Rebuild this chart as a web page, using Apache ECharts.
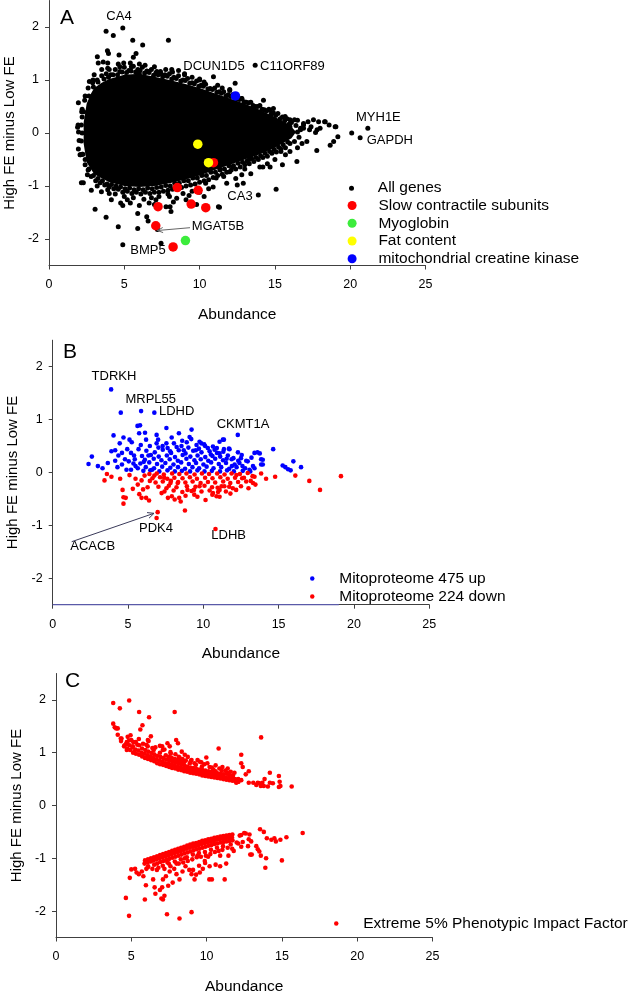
<!DOCTYPE html>
<html>
<head>
<meta charset="utf-8">
<script src="https://cdn.jsdelivr.net/npm/echarts@6/dist/echarts.min.js"></script>
<style>html,body{margin:0;padding:0;background:#fff}#c{width:633px;height:992px}</style>
</head>
<body>
<div id="c"></div>
<script>
// ---------- Tick labels ----------
const xTicks = [0, 5, 10, 15, 20, 25];
const yTicks = [-2, -1, 0, 1, 2];

// ---------- Panel A ----------
// dense core of "All genes" (outline of the solid region)
const aBlobOutline = [[2.3,0.2],[2.5,0.55],[2.8,0.75],[3.0,0.85],[3.5,0.95],[4.0,1.02],[5.0,1.1],[6.0,1.12],[7.0,1.06],[8.0,1.0],[9.0,0.93],[10.0,0.85],[11.0,0.75],[12.0,0.65],[13.0,0.55],[14.0,0.44],[15.0,0.3],[16.0,0.15],[16.4,0.02],[16.1,-0.1],[15.0,-0.28],[14.0,-0.4],[13.0,-0.5],[12.0,-0.6],[11.0,-0.7],[10.0,-0.8],[9.0,-0.88],[8.0,-0.95],[7.0,-1.0],[6.0,-1.02],[5.0,-1.0],[4.0,-0.93],[3.0,-0.78],[2.5,-0.55],[2.3,-0.2]];
const aAllGenes = [
[2.65,0.7],[2.95,0.87],[3.25,0.96],[3.65,1.02],[3.95,1.05],[4.25,1.1],[4.55,1.1],[4.85,1.15],[5.15,1.14],[5.45,1.17],[5.75,1.15],[6.05,1.18],[6.35,1.13],[6.65,1.14],[6.95,1.09],[7.25,1.1],[7.55,1.06],[7.85,1.07],[8.15,1.02],[8.45,1.03],[8.75,0.98],[9.05,0.99],[9.35,0.94],[9.65,0.93],[9.95,0.88],[10.25,0.88],[10.55,0.83],[10.85,0.82],[11.15,0.77],[11.45,0.75],[11.75,0.7],[12.05,0.69],[12.35,0.65],[12.65,0.63],[12.95,0.59],[13.25,0.57],[13.55,0.52],[13.85,0.5],[14.15,0.45],[14.45,0.42],[14.75,0.36],[15.05,0.33],[15.35,0.27],[15.65,0.23],[15.95,0.17],
[2.65,-0.68],[2.95,-0.8],[3.25,-0.86],[3.55,-0.9],[3.85,-0.96],[4.15,-0.97],[4.45,-1.0],[4.75,-1.02],[5.05,-1.05],[5.35,-1.04],[5.65,-1.07],[5.95,-1.05],[6.25,-1.07],[6.55,-1.04],[6.85,-1.05],[7.15,-1.03],[7.45,-1.02],[7.75,-0.99],[8.05,-1.0],[8.35,-0.95],[8.65,-0.95],[8.95,-0.9],[9.25,-0.9],[9.55,-0.85],[9.85,-0.85],[10.15,-0.8],[10.45,-0.8],[10.75,-0.74],[11.05,-0.74],[11.35,-0.68],[11.65,-0.68],[11.95,-0.62],[12.25,-0.62],[12.55,-0.57],[12.85,-0.55],[13.15,-0.53],[13.45,-0.48],[13.75,-0.46],[14.05,-0.43],[14.35,-0.38],[14.65,-0.35],[14.95,-0.31],[15.25,-0.27],[15.55,-0.22],[15.85,-0.17],[2.25,-0.4],[2.2,0.0],[2.3,0.4],[2.4,-0.5],
[2.2,0.45],[2.4,0.7],[2.6,0.85],[2.9,0.95],[3.2,1.0],[3.5,1.08],[3.8,1.12],[4.1,1.1],[4.4,1.2],[4.7,1.16],[5.0,1.24],[5.3,1.18],[5.6,1.26],[5.9,1.2],[6.2,1.24],[6.5,1.17],[6.8,1.2],[7.1,1.13],[7.4,1.16],[7.7,1.1],[8.0,1.12],[8.3,1.05],[8.6,1.08],[8.9,1.0],[9.2,1.03],[9.5,0.95],[9.8,0.98],[10.1,0.9],[10.4,0.92],[10.7,0.84],[11.0,0.85],[11.3,0.78],[11.6,0.78],[11.9,0.72],[12.2,0.72],[12.5,0.64],[12.8,0.65],[13.1,0.58],[13.4,0.58],[13.7,0.5],[14.0,0.52],[14.3,0.44],[14.6,0.45],[14.9,0.38],[15.2,0.37],[15.5,0.3],[15.8,0.27],[16.1,0.2],[16.4,0.14],[16.7,0.06],
[3.0,1.1],[4.0,1.2],[4.6,1.3],[5.4,1.32],[6.0,1.3],[7.0,1.25],[8.2,1.15],[9.0,1.12],[10.0,1.02],[11.2,0.9],[12.0,0.82],
[16.6,-0.08],[16.3,-0.16],[16.0,-0.2],[15.7,-0.28],[15.4,-0.3],[15.1,-0.36],[14.8,-0.38],[14.5,-0.44],[14.2,-0.46],[13.9,-0.5],[13.6,-0.54],[13.3,-0.58],[13.0,-0.6],[12.7,-0.64],[12.4,-0.68],[12.1,-0.7],[11.8,-0.74],[11.5,-0.78],[11.2,-0.8],[10.9,-0.84],[10.6,-0.88],[10.3,-0.9],[10.0,-0.93],[9.7,-0.96],[9.4,-0.98],[9.1,-1.0],[8.8,-1.03],[8.5,-1.05],[8.2,-1.06],[7.9,-1.08],[7.6,-1.1],[7.3,-1.12],[7.0,-1.12],[6.7,-1.14],[6.4,-1.12],[6.1,-1.15],[5.8,-1.12],[5.5,-1.14],[5.2,-1.1],[4.9,-1.12],[4.6,-1.06],[4.3,-1.05],[4.0,-1.02],[3.7,-0.98],[3.4,-0.94],[3.1,-0.9],[2.8,-0.82],[2.6,-0.7],[2.4,-0.6],[2.2,-0.4],[2.15,-0.15],[2.15,0.15],[2.2,0.3],
[3.79,1.92],[4.27,1.84],[4.9,1.98],[5.56,1.75],[6.22,1.66],[7.93,1.75],[3.88,1.55],[3.95,1.5],[5.78,1.5],[5.6,1.43],[3.21,1.44],[3.27,1.32],[3.9,1.32],[4.96,1.32],[6.38,1.28],[7.16,1.16],[8.15,1.2],[10.92,1.06],[12.36,0.94],[13.69,1.28],[2.68,0.97],[4.65,1.47],
[3.5,1.2],[3.9,1.22],[4.7,1.25],[5.47,1.25],[6.0,1.12],[6.58,1.16],[6.8,1.03],[7.43,1.12],[7.75,1.2],[5.1,1.06],[2.92,1.0],[3.6,1.34],[2.37,0.62],[1.93,0.15],[1.96,0.02],[1.95,-0.3],[2.1,-0.41],[1.95,0.57],[2.17,0.4],[1.9,0.11],[2.0,-0.14],[2.06,-0.41],[2.28,-0.94],[2.55,-0.79],
[8.6,1.18],[9.0,1.1],[9.5,1.05],[10.0,1.0],[10.3,0.96],[11.5,0.85],[12.0,0.8],[12.8,0.65],[14.24,0.62],[14.68,0.43],[14.9,0.46],[15.68,0.31],[16.0,0.25],[16.3,0.25],[16.5,0.24],[16.9,0.18],[17.2,0.21],[17.56,0.25],[17.9,0.21],[18.34,0.21],[18.6,0.15],[19.05,0.12],[17.8,0.06],[17.3,0.06],[16.9,0.09],[16.5,0.02],[16.0,0.12],[20.1,0.0],[21.17,0.09],[20.66,-0.09],[16.7,0.09],[17.12,-0.16],[17.78,-0.33],[18.67,-0.23],[18.9,-0.16],[19.18,-0.07],[19.0,0.12],[18.3,0.21],[17.7,0.01],[18.0,0.09],[17.4,0.12],[16.9,0.15],
[16.5,-0.28],[16.46,-0.54],[15.7,-0.41],[15.4,-0.35],[14.68,-0.64],[14.5,-0.58],[14.2,-0.64],[14.0,-0.64],[13.4,-0.77],[13.3,-0.5],[12.9,-0.95],[12.5,-0.98],[12.4,-0.86],[12.8,-0.79],[13.9,-1.17],[15.08,-1.06],[11.32,-1.4],[12.0,-0.73],[12.2,-0.64],[13.4,-0.45],[13.7,-0.35],[14.0,-0.28],[11.36,-0.7],[11.6,-0.82],[11.1,-0.85],[13.0,-0.68],[15.0,-0.5],[16.0,-0.35],[16.8,-0.2],[15.5,-0.6],
[8.48,-1.23],[9.1,-1.26],[9.8,-1.35],[10.3,-1.2],[10.9,-1.02],[11.25,-1.39],[10.0,-1.12],[9.5,-1.1],[8.0,-1.2],[8.26,-1.3],[8.9,-1.14],[8.04,-1.39],[7.77,-1.39],[8.1,-1.48],[7.44,-2.08],[6.49,-1.58],[5.89,-1.52],[5.89,-1.8],[4.9,-1.37],[4.9,-2.11],[4.6,-1.77],[3.79,-1.59],[3.06,-1.44],[3.9,-1.07],[2.81,-1.08],[2.15,-0.94],[6.58,-1.66],[5.2,-1.26],[4.14,-1.26],[4.0,-1.14],[3.48,-1.11],[4.76,-1.32],[5.4,-1.32],[6.0,-1.37],[5.6,-1.22],[6.65,-1.32],[7.1,-1.26],[7.3,-1.2],[6.8,-1.22],[6.3,-1.25],[5.0,-1.2],[4.4,-1.15],[3.2,-1.0],[7.9,-1.15],[7.0,-1.35],[9.3,-1.18],[10.6,-1.05],[11.8,-0.95],[10.4,-0.95],[7.2,-1.82]
];
const aSlow = [[10.92,-0.56],[8.52,-1.03],[9.9,-1.08],[9.44,-1.34],[10.41,-1.41],[7.24,-1.39],[7.09,-1.75],[8.24,-2.15]];
const aMyoglobin = [[9.06,-2.03]];
const aFat = [[9.88,-0.21],[10.59,-0.56]];
const aMitoCK = [[12.38,0.70]];

// ---------- Panel B ----------
const bUp = [
[3.88,1.57],[4.52,1.13],[5.87,1.16],[6.75,1.13],[5.63,0.88],[5.8,0.89],[7.55,0.84],[5.74,0.74],[6.13,0.75],[6.9,0.71],[8.38,0.74],[9.22,0.81],[4.04,0.7],[4.7,0.66],[5.25,0.57],[2.6,0.3],[2.38,0.16],[3.31,0.08],[3.66,0.18],[4.15,0.22],[4.15,0.42],[4.36,0.32],[4.6,0.37],[4.95,0.44],[5.2,0.37],[4.8,0.25],[5.05,0.21],[5.4,0.32],[5.7,0.44],[5.85,0.52],[5.36,0.17],[5.65,0.08],[6.05,0.2],[6.36,0.32],[6.45,0.5],[6.9,0.55],[7.3,0.5],[7.55,0.55],[7.8,0.4],[8.05,0.55],[8.55,0.5],[8.9,0.57],[9.2,0.63],[9.55,0.52],
[9.09,0.67],[9.75,0.58],[10.06,0.53],[10.64,0.49],[11.3,0.62],[11.08,0.36],[11.7,0.45],[12.3,0.38],[12.0,0.27],[12.85,0.22],[13.4,0.37],[13.6,0.38],[13.75,0.36],[13.84,0.25],[13.84,0.15],[14.64,0.44],[15.27,0.13],[15.45,0.1],[15.63,0.06],[15.8,0.04],[15.98,0.21],[16.49,0.1],[13.3,0.12],[13.07,0.05],[12.6,0.12],[12.4,0.18],[12.29,0.71],[11.08,0.58],[11.37,0.62],[9.87,0.55],[11.37,0.44],[11.74,0.44],[12.95,0.21],[13.95,0.24],[13.95,0.15],[13.4,0.08],[10.75,0.43],[10.3,0.46],[10.5,0.34],[12.5,0.27],[3.0,0.12],[4.3,0.1],[4.9,0.05],[3.9,0.4],[4.45,0.55],[5.1,0.62],[6.2,0.62],[7.0,0.62],[7.9,0.66],[8.7,0.42],[5.5,0.12],[6.6,0.05],
[6.22,0.41],[6.78,0.38],[7.31,0.43],[7.86,0.37],[8.37,0.42],[8.82,0.36],[9.33,0.41],[9.88,0.38],[10.42,0.4],[10.91,0.37],[11.33,0.39],
[5.93,0.31],[6.52,0.33],[7.04,0.3],[7.58,0.32],[8.12,0.29],[8.63,0.33],[9.14,0.3],[9.62,0.32],[10.13,0.29],[10.61,0.31],[11.12,0.3],[11.63,0.32],
[6.12,0.24],[6.71,0.26],[7.22,0.23],[7.77,0.25],[8.31,0.22],[8.88,0.26],[9.41,0.23],[9.83,0.25],[10.33,0.22],[10.79,0.26],[11.31,0.23],[11.88,0.25],[12.32,0.22],
[5.82,0.17],[6.41,0.19],[6.93,0.16],[7.48,0.18],[8.02,0.15],[8.53,0.19],[9.04,0.16],[9.52,0.18],[10.01,0.15],[10.52,0.19],[11.03,0.16],[11.51,0.18],[12.08,0.15],
[6.18,0.1],[6.73,0.08],[7.27,0.11],[7.81,0.09],[8.32,0.1],[8.79,0.07],[9.28,0.1],[9.72,0.08],[10.22,0.11],[10.68,0.08],[11.19,0.1],[11.72,0.07],[12.21,0.1],[12.78,0.08],
[6.02,0.03],[6.48,0.04],[7.08,0.02],[7.62,0.04],[8.11,0.02],[8.58,0.03],[9.12,0.02],[9.61,0.04],[10.08,0.02],[10.57,0.03],[11.11,0.02],[11.58,0.04],[12.03,0.02],[12.62,0.03],[13.12,0.02],
[7.02,0.47],[7.63,0.46],[8.23,0.48],[9.01,0.47],[9.71,0.45],[10.12,0.5],[8.6,0.6],[9.5,0.42],[10.9,0.46],[11.55,0.26],[11.9,0.12],[12.55,0.33],[13.2,0.28],[5.2,0.05],[5.45,0.25],[4.6,0.15]
];
const bDown = [
[3.6,-0.03],[3.44,-0.15],[4.48,-0.12],[4.64,-0.33],[4.7,-0.47],[4.85,-0.48],[4.7,-0.59],[5.32,-0.31],[5.65,-0.23],[5.75,-0.41],[5.9,-0.48],[6.2,-0.48],[6.4,-0.53],[6.3,-0.28],[6.45,-0.16],[6.1,-0.06],[6.75,-0.06],[6.97,-0.75],[6.9,-0.86],[7.23,-0.39],[7.55,-0.3],[7.65,-0.48],[8.1,-0.51],[8.4,-0.48],[8.78,-0.72],[7.85,-0.16],[7.4,-0.1],[8.3,-0.2],[8.95,-0.33],[9.4,-0.42],[8.5,-0.55],[10.15,-0.52],[10.81,-1.07],[9.38,-0.33],[9.75,-0.26],[10.64,-0.39],[11.08,-0.33],[11.5,-0.36],[11.96,-0.3],[12.18,-0.33],[12.85,-0.17],[13.3,-0.2],[13.4,-0.08],[13.84,-0.02],[14.17,-0.12],[14.77,-0.08],[16.11,-0.06],[17.04,-0.16],[17.75,-0.33],[19.14,-0.07],[12.5,-0.26],[11.08,-0.46],[11.8,-0.4],[13.46,-0.23],[12.95,-0.01],[13.27,-0.07],[13.15,-0.16],[11.4,-0.26],[10.95,-0.29],[10.6,-0.42],[5.1,-0.05],[5.5,-0.12],[3.9,-0.08],
[6.42,-0.03],[6.91,-0.02],[7.38,-0.04],[7.93,-0.02],[8.41,-0.03],[8.88,-0.02],[9.42,-0.04],[9.91,-0.02],[10.38,-0.03],[10.92,-0.02],[11.41,-0.04],[11.88,-0.02],[12.43,-0.03],
[6.62,-0.11],[7.13,-0.09],[7.61,-0.12],[8.08,-0.1],[8.62,-0.11],[9.11,-0.09],[9.58,-0.12],[10.12,-0.1],[10.61,-0.11],[11.13,-0.09],[11.62,-0.12],[12.11,-0.1],[12.58,-0.11],
[6.83,-0.19],[7.31,-0.17],[7.82,-0.2],[8.33,-0.18],[8.81,-0.19],[9.29,-0.17],[9.82,-0.2],[10.31,-0.18],[10.79,-0.19],[11.32,-0.17],[11.79,-0.2],[12.31,-0.18],
[7.02,-0.27],[7.71,-0.25],[8.22,-0.28],[8.91,-0.26],[9.48,-0.27],[10.08,-0.25],[10.58,-0.28],[11.21,-0.26],[11.72,-0.27],
[7.42,-0.36],[8.03,-0.34],[8.61,-0.37],[9.22,-0.35],[9.88,-0.36],[10.42,-0.34],[10.98,-0.37],
[7.91,-0.45],[8.82,-0.44],[9.61,-0.46],[10.88,-0.45],[12.7,-0.1],[13.0,-0.3],[12.2,-0.05],[6.0,-0.32],[5.9,-0.15]
];
const bAxisTint = [[0,-2.5],[19,-2.5]];

// ---------- Panel C ----------
const cHigh = [
[3.8,1.94],[4.86,1.99],[4.24,1.84],[5.52,1.77],[7.88,1.77],[6.18,1.67],[5.74,1.52],[5.6,1.44],[3.8,1.55],[3.9,1.48],[4.1,1.46],[4.1,1.34],[4.35,1.27],[4.7,1.2],[4.95,1.33],[5.0,1.24],[4.55,1.14],[4.7,1.05],[5.1,1.12],[5.2,1.02],[5.78,1.17],[6.1,1.24],[6.3,1.31],[6.4,1.09],[6.9,1.13],[7.2,1.06],[7.55,1.12],[7.98,1.24],[8.1,1.18],[10.8,1.08],[13.62,1.29],[12.3,0.96],[12.3,0.8],[12.4,0.73],[12.8,0.65],[9.98,0.91],[9.0,0.86],[8.55,0.96],[8.8,0.7],[9.55,0.83],[9.55,0.65],[10.2,0.73],[10.4,0.6],[11.0,0.66],[11.4,0.7],[11.75,0.57],[12.1,0.5],[11.97,0.43],[13.1,0.43],[13.4,0.43],[13.7,0.43],[13.85,0.5],[14.2,0.62],[14.8,0.56],[14.85,0.45],[14.9,0.37],[14.4,0.42],[15.65,0.36],[14.07,0.36],[13.3,0.39],[12.8,0.43],[12.6,0.59],[13.5,0.42],[13.6,0.37],[13.8,0.37],[14.2,0.43],[14.8,0.35],[12.3,0.48],[12.1,0.45],[11.5,0.58],[10.6,0.65],[4.0,1.46],[4.3,1.27],[4.65,1.16],[4.76,1.3],[4.85,1.23],[5.4,1.15],[5.5,1.26],[6.15,1.22],[7.4,1.18],[7.6,1.01],[8.2,0.91],
[8.15,0.92],[8.4,0.88],[8.62,0.85],[8.95,0.84],[9.2,0.8],[9.4,0.86],[9.85,0.78],[10.05,0.8],[10.35,0.72],[10.6,0.76],[10.85,0.7],[11.05,0.73],[11.25,0.66],[11.6,0.64],[11.85,0.62],[8.35,1.02],[8.75,0.92],[9.65,0.82],[10.45,0.68],[11.4,0.62],[7.05,1.12],[7.62,0.98],[6.6,1.1],[6.0,1.15],[5.3,1.2],
[4.32,1.22],[4.52,1.12],[4.71,1.18],[4.73,1.08],[4.92,1.05],[4.88,1.14],[5.12,1.0],[5.08,1.1],[5.14,1.2],[5.31,0.98],[5.28,1.06],[5.52,0.96],[5.47,1.04],[5.53,1.14],[5.72,0.93],[5.68,1.0],[5.71,1.08],[5.91,0.9],[5.88,0.98],[5.93,1.05],[6.11,0.88],[6.08,0.95],[6.12,1.02],[6.09,1.12],[6.31,0.86],[6.28,0.93],[6.33,1.0],[6.52,0.84],[6.48,0.9],[6.51,0.97],[6.49,1.05],[6.72,0.8],[6.68,0.87],[6.71,0.94],[6.91,0.78],[6.88,0.85],[6.93,0.92],[6.9,1.0],[7.11,0.77],[7.08,0.83],[7.12,0.9],[7.09,1.05],[7.32,0.75],[7.28,0.8],[7.31,0.87],[7.29,0.95],[7.52,0.73],[7.48,0.79],[7.51,0.85],[7.49,0.92],[7.71,0.71],[7.68,0.77],[7.72,0.83],[7.69,0.9],[7.92,0.7],[7.88,0.75],[7.91,0.81],[7.89,0.88],[7.93,0.97],[8.11,0.68],[8.08,0.73],[8.12,0.79],[8.09,0.86],[8.31,0.67],[8.28,0.72],[8.32,0.77],[8.29,0.84],[8.51,0.65],[8.48,0.7],[8.52,0.76],[8.49,0.82],[8.71,0.64],[8.68,0.69],[8.72,0.74],[8.91,0.62],[8.88,0.67],[8.92,0.72],[8.89,0.8],[9.11,0.61],[9.08,0.66],[9.12,0.71],[9.31,0.6],[9.28,0.64],[9.32,0.69],[9.29,0.77],[9.51,0.59],[9.48,0.63],[9.52,0.68],[9.71,0.57],[9.68,0.62],[9.72,0.67],[9.69,0.74],[9.91,0.56],[9.88,0.61],[9.92,0.66],[10.11,0.55],[10.08,0.6],[10.12,0.65],[10.31,0.54],[10.28,0.58],[10.32,0.64],[10.51,0.53],[10.48,0.57],[10.52,0.62],[10.71,0.52],[10.68,0.56],[10.72,0.61],[10.91,0.51],[10.88,0.55],[10.92,0.6],[11.11,0.5],[11.08,0.54],[11.12,0.59],[11.31,0.49],[11.28,0.53],[11.32,0.6],[11.51,0.48],[11.48,0.52],[11.71,0.47],[11.68,0.51],[11.72,0.56],[11.91,0.46],[11.88,0.5],[12.11,0.45],[12.08,0.49]
];
const cLow = [
[4.64,-1.75],[4.85,-2.09],[4.9,-1.37],[5.0,-1.21],[5.25,-1.2],[5.35,-1.27],[5.7,-1.25],[5.9,-1.78],[5.97,-1.51],[6.1,-1.17],[5.8,-1.34],[6.45,-1.4],[6.55,-1.55],[6.6,-1.67],[6.7,-1.22],[6.9,-1.6],[7.0,-1.76],[7.1,-1.78],[7.2,-1.71],[7.05,-1.55],[7.1,-1.4],[7.45,-1.52],[7.37,-2.06],[8.2,-2.14],[9.0,-2.02],[7.55,-1.25],[7.3,-1.34],[7.75,-1.46],[8.2,-1.4],[8.0,-1.3],[9.1,-1.22],[9.2,-1.4],[9.3,-1.31],[9.55,-1.27],[9.75,-1.2],[9.88,-1.05],[10.2,-1.15],[10.35,-1.4],[10.6,-1.12],[10.9,-1.15],[11.2,-1.4],[10.9,-0.95],[11.45,-0.95],[11.7,-0.82],[12.0,-0.7],[12.2,-0.57],[12.5,-0.52],[12.85,-0.55],[12.96,-0.68],[12.75,-0.77],[12.9,-0.93],[13.3,-0.77],[13.4,-0.83],[13.55,-0.45],[13.95,-1.0],[13.6,-0.95],[13.9,-1.18],[14.3,-0.65],[14.5,-0.62],[14.6,-0.68],[14.9,-0.65],[15.0,-1.04],[15.3,-0.6],[16.38,-0.52],[13.5,-0.87],[13.0,-0.93],[12.8,-0.64],[12.6,-0.53],[12.3,-0.56],[12.4,-0.69],[12.3,-0.78],[12.1,-0.72],[11.8,-0.86],[11.3,-1.1],[10.18,-1.4],[9.0,-1.3],[9.5,-1.14],[9.9,-1.09],[10.1,-0.97],[8.85,-1.22],[8.6,-1.15],[8.4,-1.25],[6.3,-1.05],[6.0,-1.2],[5.5,-1.3],[13.8,-0.5],[14.0,-0.62],
[7.2,-1.2],[7.6,-1.15],[7.85,-1.2],[8.15,-1.1],[8.45,-1.08],[8.75,-1.05],[9.05,-1.02],[9.35,-0.98],[9.62,-0.97],[9.95,-0.95],[10.25,-0.92],[10.55,-0.88],[10.8,-0.86],[11.05,-0.84],[11.4,-0.8],[11.6,-0.74],[6.4,-1.2],[6.8,-1.18],[7.4,-1.08],[8.0,-1.1],[8.55,-1.0],[9.4,-0.95],
[5.91,-1.04],[5.88,-1.1],[6.11,-1.02],[6.08,-1.08],[6.12,-1.15],[6.31,-1.0],[6.28,-1.06],[6.51,-0.98],[6.48,-1.04],[6.52,-1.12],[6.71,-0.96],[6.68,-1.02],[6.72,-1.1],[6.91,-0.94],[6.88,-1.0],[6.92,-1.07],[7.11,-0.92],[7.08,-0.98],[7.12,-1.05],[7.09,-1.14],[7.31,-0.9],[7.28,-0.96],[7.32,-1.03],[7.51,-0.88],[7.48,-0.94],[7.52,-1.01],[7.49,-1.1],[7.71,-0.86],[7.68,-0.92],[7.72,-0.99],[7.91,-0.84],[7.88,-0.9],[7.92,-0.97],[7.89,-1.06],[8.11,-0.82],[8.08,-0.88],[8.12,-0.95],[8.31,-0.8],[8.28,-0.86],[8.32,-0.93],[8.29,-1.02],[8.51,-0.78],[8.48,-0.84],[8.52,-0.91],[8.71,-0.76],[8.68,-0.82],[8.72,-0.89],[8.69,-0.98],[8.91,-0.74],[8.88,-0.8],[8.92,-0.87],[9.11,-0.72],[9.08,-0.78],[9.12,-0.85],[9.09,-0.93],[9.31,-0.71],[9.28,-0.77],[9.32,-0.83],[9.51,-0.69],[9.48,-0.75],[9.52,-0.82],[9.49,-0.9],[9.71,-0.67],[9.68,-0.73],[9.72,-0.8],[9.91,-0.66],[9.88,-0.71],[9.92,-0.78],[9.89,-0.88],[10.11,-0.64],[10.08,-0.7],[10.12,-0.76],[10.31,-0.63],[10.28,-0.68],[10.32,-0.75],[10.29,-0.84],[10.51,-0.61],[10.48,-0.67],[10.52,-0.73],[10.71,-0.6],[10.68,-0.65],[10.72,-0.72],[10.69,-0.8],[10.91,-0.59],[10.88,-0.64],[10.92,-0.7],[11.11,-0.58],[11.08,-0.63],[11.12,-0.69],[11.09,-0.77],[11.31,-0.57],[11.28,-0.62],[11.32,-0.68],[11.51,-0.56],[11.48,-0.61],[11.52,-0.67],[11.71,-0.55],[11.68,-0.6],[11.72,-0.66]
];

const FONT = 'Arial, "Liberation Sans", sans-serif';
const AXC = '#404040';

const grids = [
  {left: 49, top: 0.5, width: 376.5, height: 265, containLabel: false, outerBoundsMode: 'none'},
  {left: 52.7, top: 340.2, width: 376.5, height: 264.5, containLabel: false, outerBoundsMode: 'none'},
  {left: 56, top: 673.5, width: 376.5, height: 264, containLabel: false, outerBoundsMode: 'none'}
];

function xAx(i) {
  return {
    gridIndex: i, type: 'value', min: 0, max: 25, interval: 5,
    axisLine: {show: true, onZero: false, lineStyle: {color: AXC, width: 1}},
    axisTick: {show: true, length: 4, lineStyle: {color: AXC}},
    axisLabel: {color: '#000', fontSize: 12.5, fontFamily: FONT, margin: 13},
    splitLine: {show: false},
    name: 'Abundance', nameLocation: 'middle', nameGap: 41,
    nameTextStyle: {color: '#000', fontSize: 15.5, fontFamily: FONT}
  };
}
function yAx(i) {
  return {
    gridIndex: i, type: 'value', min: -2.5, max: 2.5,
    axisLine: {show: true, onZero: false, lineStyle: {color: AXC, width: 1}},
    axisTick: {show: true, length: 4, customValues: yTicks, lineStyle: {color: AXC}},
    axisLabel: {color: '#000', fontSize: 12.5, fontFamily: FONT, margin: 10, customValues: yTicks},
    splitLine: {show: false},
    name: 'High FE minus Low FE', nameLocation: 'middle', nameGap: 32,
    nameTextStyle: {color: '#000', fontSize: 15, fontFamily: FONT}
  };
}

function sc(name, data, xi, color, size, z) {
  return {
    name: name, type: 'scatter', xAxisIndex: xi, yAxisIndex: xi, data: data,
    symbol: 'circle', symbolSize: size, itemStyle: {color: color, opacity: 1},
    emphasis: {disabled: true}, silent: true, z: z || 2, animation: false
  };
}

const series = [
  {
    type: 'custom', xAxisIndex: 0, yAxisIndex: 0, data: aBlobOutline, silent: true, animation: false, z: 1,
    renderItem: function (params, api) {
      if (params.dataIndex !== 0) return null;
      const pts = aBlobOutline.map(function (p) { return api.coord(p); });
      return {type: 'polygon', shape: {points: pts}, style: {fill: '#000'}};
    }
  },
  sc('All genes', aAllGenes, 0, '#000', 5, 2),
  sc('Slow contractile subunits', aSlow, 0, '#ff0000', 9.5, 3),
  sc('Myoglobin', aMyoglobin, 0, '#3cec3c', 9.5, 3),
  sc('Fat content', aFat, 0, '#ffff00', 9.5, 4),
  sc('mitochondrial creatine kinase', aMitoCK, 0, '#0000ff', 9.5, 4),
  sc('Mitoproteome 475 up', bUp, 1, '#0000ff', 4.6, 2),
  sc('Mitoproteome 224 down', bDown, 1, '#ff0000', 4.6, 3),
  {
    type: 'line', xAxisIndex: 1, yAxisIndex: 1, data: bAxisTint, symbol: 'none', clip: false,
    lineStyle: {color: '#5a5aa8', width: 1.3}, silent: true, animation: false, z: 5
  },
  sc('Extreme 5% Phenotypic Impact Factor', cHigh.concat(cLow), 2, '#ff0000', 4.6, 2)
];

const legendText = {color: '#000', fontSize: 15.5, fontFamily: FONT};
const legends = [
  {data: ['All genes'], orient: 'vertical', left: 344, top: 174.4, itemWidth: 42.6, itemHeight: 5, itemGap: 0, icon: 'circle', selectedMode: false, textStyle: Object.assign({lineHeight: 17.6}, legendText)},
  {data: ['Slow contractile subunits', 'Myoglobin', 'Fat content', 'mitochondrial creatine kinase'], orient: 'vertical', left: 342.6, top: 191.6, itemWidth: 42.6, itemHeight: 9, itemGap: 0, icon: 'circle', selectedMode: false, textStyle: Object.assign({lineHeight: 17.75}, legendText)},
  {data: ['Mitoproteome 475 up', 'Mitoproteome 224 down'], orient: 'vertical', left: 305, top: 564.4, itemWidth: 44, itemHeight: 4.5, itemGap: 0, icon: 'circle', selectedMode: false, textStyle: Object.assign({lineHeight: 18}, legendText)},
  {data: ['Extreme 5% Phenotypic Impact Factor'], orient: 'vertical', left: 329, top: 909.4, itemWidth: 44, itemHeight: 4.5, itemGap: 0, icon: 'circle', selectedMode: false, textStyle: Object.assign({lineHeight: 18}, legendText)}
];

function txt(t, x, y, align, size) {
  return {type: 'text', silent: true, z: 100, style: {text: t, x: x, y: y, fill: '#000', font: (size || 13) + 'px ' + FONT, align: align || 'center', verticalAlign: 'middle'}};
}
const graphics = [
  txt('A', 60, 18, 'left', 21), txt('B', 63, 352, 'left', 21), txt('C', 65, 681, 'left', 21),
  txt('CA4', 119, 16.7), txt('DCUN1D5', 214, 66.7), txt('C11ORF89', 260, 66, 'left'),
  txt('MYH1E', 356, 117, 'left'), txt('GAPDH', 366.7, 140, 'left'), txt('CA3', 240, 196),
  txt('MGAT5B', 191.7, 226, 'left'), txt('BMP5', 148, 250),
  txt('TDRKH', 114, 376.7), txt('MRPL55', 150.7, 399.3), txt('LDHD', 159, 411.7, 'left'),
  txt('CKMT1A', 243, 424), txt('PDK4', 156, 528), txt('LDHB', 228.7, 535.7), txt('ACACB', 92.7, 546.7),
  {type: 'line', silent: true, z: 100, shape: {x1: 190, y1: 227.7, x2: 157.5, y2: 230.5}, style: {stroke: '#666', lineWidth: 1}},
  {type: 'polyline', silent: true, z: 100, shape: {points: [[163.1, 232.6], [157.5, 230.5], [162.7, 227.5]]}, style: {stroke: '#666', lineWidth: 1, fill: null}},
  {type: 'line', silent: true, z: 100, shape: {x1: 71.7, y1: 541.7, x2: 154, y2: 513.3}, style: {stroke: '#3a3a5a', lineWidth: 1}},
  {type: 'polyline', silent: true, z: 100, shape: {points: [[147.0, 512.6], [154, 513.3], [149.0, 518.2]]}, style: {stroke: '#3a3a5a', lineWidth: 1, fill: null}}
];

const chart = echarts.init(document.getElementById('c'), null, {renderer: 'canvas'});
chart.setOption({
  animation: false,
  backgroundColor: '#fff',
  textStyle: {fontFamily: FONT},
  grid: grids,
  xAxis: [xAx(0), xAx(1), xAx(2)],
  yAxis: [yAx(0), yAx(1), yAx(2)],
  legend: legends,
  series: series,
  graphic: graphics
});
</script>
</body>
</html>
